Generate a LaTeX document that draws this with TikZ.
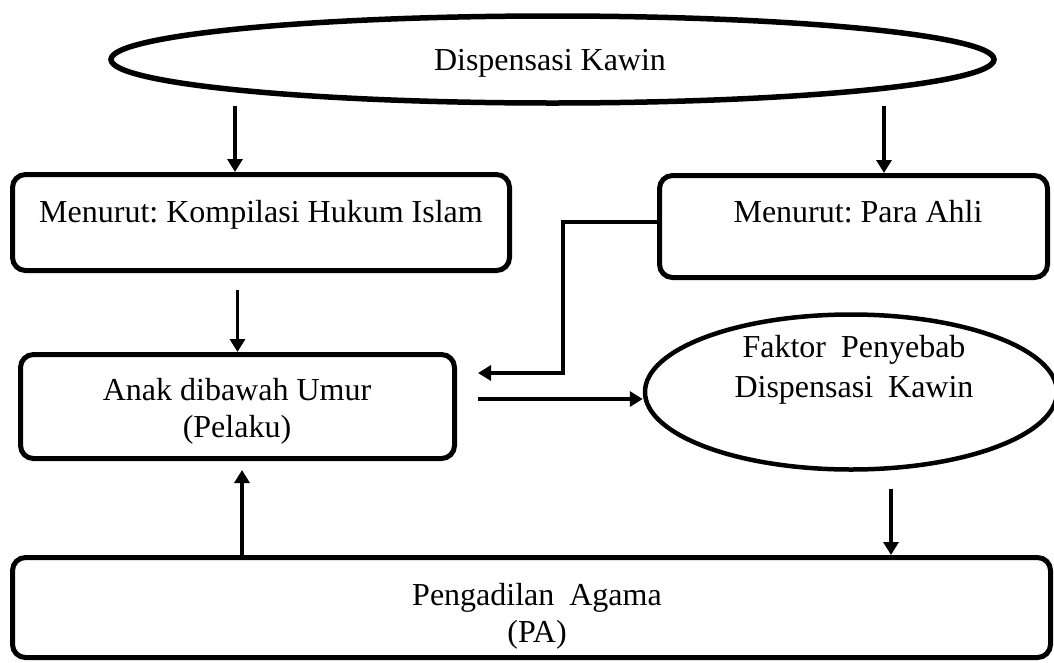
\documentclass[tikz,border=0pt]{standalone}
\usepackage{fontspec}
\setmainfont{Liberation Serif}
\usetikzlibrary{shapes.geometric,arrows.meta,calc}
\newcommand\widespaces{\spaceskip=15pt\relax}
\frenchspacing
\begin{document}
\begin{tikzpicture}[x=1pt,y=-1pt,
  txt/.style={font=\fontsize{32}{37}\selectfont, inner sep=0pt, align=center, anchor=base},
  widetxt/.style={txt, font=\fontsize{32}{37}\selectfont\widespaces},
  boxst/.style={draw, line width=5pt, rounded corners=13pt, inner sep=0pt},
  ellst/.style={ellipse, draw, inner sep=0pt},
  arr/.style={line width=3.5pt, -{Triangle[length=13pt,width=15pt]}}
]
\useasboundingbox (0,0) rectangle (1054,662);
\clip (0,0) rectangle (1054,662);

% shapes
\node[ellst, line width=5.5pt, minimum width=883pt, minimum height=87pt] (dk) at (552.5,59.5) {};
\node[boxst, minimum width=497pt, minimum height=96pt] (kh) at (261,222.5) {};
\node[boxst, minimum width=388pt, minimum height=102pt] (ahli) at (853.5,226.5) {};
\node[boxst, minimum width=434pt, minimum height=104pt] (anak) at (237.5,406.5) {};
\node[ellst, line width=4.5pt, minimum width=412pt, minimum height=155pt] (fk) at (851,392) {};
\node[boxst, minimum width=1038pt, minimum height=100pt] (pa) at (531.5,607.5) {};

% texts (base anchor = baseline of the last line)
\node[txt] (tdk) at (550,70) {Dispensasi Kawin};
\node[txt] (tkh) at (261,222) {Menurut: Kompilasi Hukum Islam};
\node[txt] (tahli) at (858,222) {Menurut: Para Ahli};
\node[txt] (tanak) at (237,437) {Anak dibawah Umur\\(Pelaku)};
\node[widetxt] (tfk) at (854,397) {Faktor Penyebab\\[3pt]Dispensasi Kawin};
\node[widetxt] (tpa) at (537,642) {Pengadilan Agama\\(PA)};

% connectors
\draw[arr] ($(dk.south -| kh.north)+(-26,0)$) -- ($(kh.north)+(-26,0)$);
\draw[arr] ($(dk.south -| ahli.north)+(30.5,0)$) -- ($(ahli.north)+(30.5,0)$);
\draw[arr] ($(kh.south -| anak.north)+(0,17)$) -- (anak.north);
\coordinate (e1) at ($(anak.east)+(21,-33.5)$);
\draw[arr] ($(ahli.west)+(0,-4.5)$) -- ++(-94,0) |- (e1);
\coordinate (s2) at ($(anak.east)+(21,-7.5)$);
\draw[arr] (s2) -- (s2 -| fk.west);
\coordinate (s3) at ($(fk.south)+(40,17)$);
\draw[arr] (s3) -- (s3 |- pa.north);
\coordinate (s4) at ($(pa.north)+(-289.5,0)$);
\draw[arr] (s4) -- ($(s4 |- anak.south)+(0,9)$);
\end{tikzpicture}
\end{document}
